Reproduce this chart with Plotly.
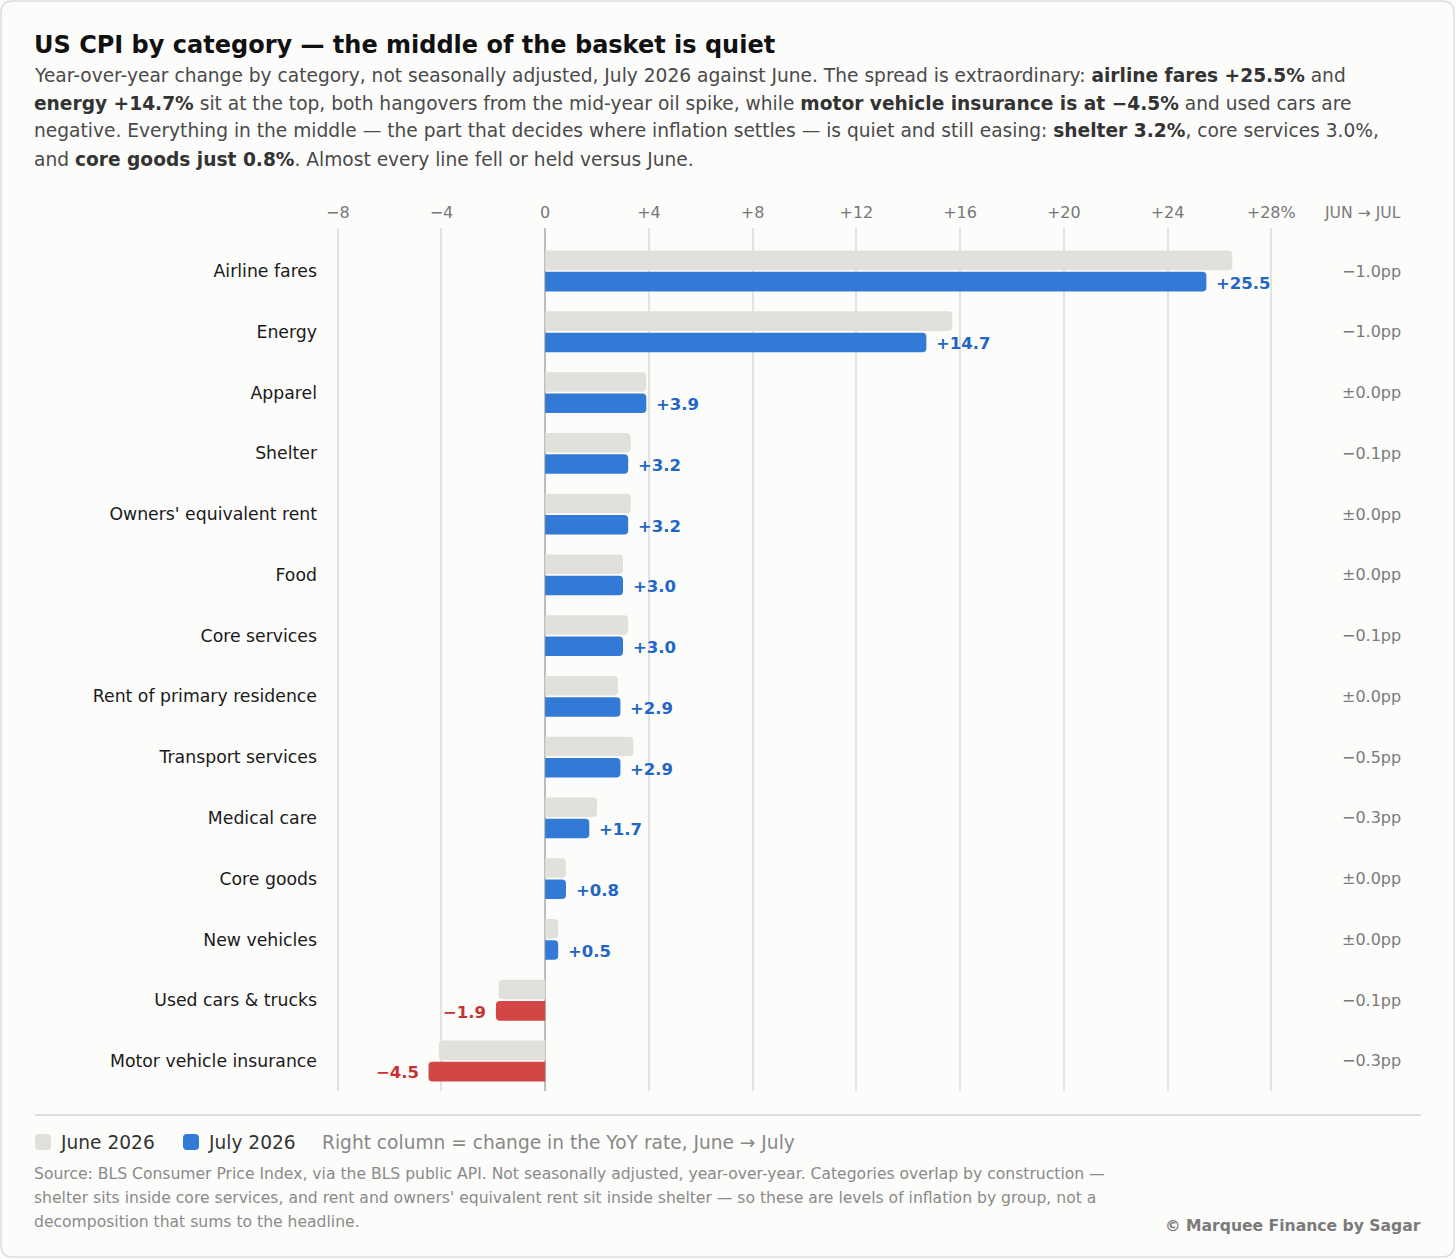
import plotly.graph_objects as go

categories = ["Airline fares", "Energy", "Apparel", "Shelter", "Owners' equivalent rent",
              "Food", "Core services", "Rent of primary residence", "Transport services",
              "Medical care", "Core goods", "New vehicles", "Used cars & trucks",
              "Motor vehicle insurance"]
june_2026 = [26.5, 15.7, 3.9, 3.3, 3.3, 3.0, 3.2, 2.8, 3.4, 2.0, 0.8, 0.5, -1.8, -4.1]
july_2026 = [25.5, 14.7, 3.9, 3.2, 3.2, 3.0, 3.0, 2.9, 2.9, 1.7, 0.8, 0.5, -1.9, -4.5]
change_pp = ["\u22121.0pp", "\u22121.0pp", "\u00b10.0pp", "\u22120.1pp", "\u00b10.0pp",
             "\u00b10.0pp", "\u22120.1pp", "\u00b10.0pp", "\u22120.5pp", "\u22120.3pp",
             "\u00b10.0pp", "\u00b10.0pp", "\u22120.1pp", "\u22120.3pp"]
tick_vals = [-8, -4, 0, 4, 8, 12, 16, 20, 24, 28]
tick_text = ["\u22128", "\u22124", "0", "+4", "+8", "+12", "+16", "+20", "+24", "+28%"]

FONT = "DejaVu Sans"
W, H = 1456, 1259
L, R, T, B = 330, 1279, 228, 1091
BG = "#fcfcfa"

def px(x):
    return (x - L) / (R - L)

def py(y):
    return (B - y) / (B - T)

BLUE, RED, GREY = "#3379d6", "#d24646", "#e2e0da"
july_colors = [BLUE if v >= 0 else RED for v in july_2026]

fig = go.Figure()
fig.add_trace(go.Bar(y=categories, x=june_2026, orientation="h", name="June 2026",
                     marker=dict(color=GREY, cornerradius=4, line=dict(width=0)),
                     hoverinfo="skip"))
fig.add_trace(go.Bar(y=categories, x=july_2026, orientation="h", name="July 2026",
                     marker=dict(color=july_colors, cornerradius=4, line=dict(width=0)),
                     hoverinfo="skip"))

ann = []

def text_at(x, y, s, size, color, anchor="left"):
    # pixel-placed text; small shift compensates the annotation padding
    ann.append(dict(x=px(x), y=py(y), xref="paper", yref="paper", showarrow=False,
                    xanchor=anchor, yanchor="middle", text=s,
                    xshift=-3 if anchor == "left" else 2,
                    font=dict(family=FONT, size=size, color=color)))

# value labels next to July bars
for c, v in zip(categories, july_2026):
    pos = v >= 0
    ann.append(dict(x=v, y=c, xref="x", yref="y", text="<b>%s%.1f</b>" % ("+" if pos else "\u2212", abs(v)),
                    showarrow=False, xanchor="left" if pos else "right", xshift=8 if pos else -8,
                    yshift=-12, font=dict(family=FONT, size=16.5, color="#1f66c6" if pos else "#c83232")))
# right column
for c, d in zip(categories, change_pp):
    ann.append(dict(x=px(1401), y=c, xref="paper", yref="y", text=d, showarrow=False,
                    xanchor="right", xshift=2, font=dict(family=FONT, size=16, color="#7a7a7a")))
text_at(1401, 213, "JUN \u2192 JUL", 15.6, "#7a7a7a", "right")

# title and subtitle
text_at(35, 45, "<b>US CPI by category \u2014 the middle of the basket is quiet</b>", 24, "#111111")
bold = "<span style='color:#333333'><b>%s</b></span>"
sub = [
    "Year-over-year change by category, not seasonally adjusted, July 2026 against June. The spread is extraordinary: "
    + bold % "airline fares +25.5%" + " and",
    bold % "energy +14.7%" + " sit at the top, both hangovers from the mid-year oil spike, while "
    + bold % "motor vehicle insurance is at \u22124.5%" + " and used cars are",
    "negative. Everything in the middle \u2014 the part that decides where inflation settles \u2014 is quiet and still easing: "
    + bold % "shelter 3.2%" + ", core services 3.0%,",
    "and " + bold % "core goods just 0.8%" + ". Almost every line fell or held versus June.",
]
for i, s in enumerate(sub):
    text_at(35, 75 + 28 * i, s, 18.63, "#4a4a4a")

# legend
text_at(61, 1142, "June 2026", 18.6, "#333333")
text_at(209, 1142, "July 2026", 18.6, "#333333")
text_at(323, 1142, "Right column = change in the YoY rate, June \u2192 July", 18.6, "#888888")

# footer
foot = [
    "Source: BLS Consumer Price Index, via the BLS public API. Not seasonally adjusted, year-over-year. Categories overlap by construction \u2014",
    "shelter sits inside core services, and rent and owners' equivalent rent sit inside shelter \u2014 so these are levels of inflation by group, not a",
    "decomposition that sums to the headline.",
]
for i, s in enumerate(foot):
    text_at(35, 1174 + 24 * i, s, 15.6, "#8a8a8a")
text_at(1421, 1226, "<b>\u00a9 Marquee Finance by Sagar</b>", 15.6, "#7a7a7a", "right")

def rounded_rect(x0, y0, x1, y1, r):
    # path in paper coords, corners given in pixels
    rx, ry = r / (R - L), r / (B - T)
    a, b, c, d = px(x0), py(y1), px(x1), py(y0)
    return (f"M {a+rx},{b} L {c-rx},{b} Q {c},{b} {c},{b+ry} L {c},{d-ry} Q {c},{d} {c-rx},{d} "
            f"L {a+rx},{d} Q {a},{d} {a},{d-ry} L {a},{b+ry} Q {a},{b} {a+rx},{b} Z")

shapes = [
    dict(type="path", xref="paper", yref="paper", path=rounded_rect(1, 1, 1454, 1257, 12),
         line=dict(color="#dcdcdc", width=1.5), fillcolor="rgba(0,0,0,0)", layer="below"),
    dict(type="line", xref="paper", yref="paper", x0=px(35), x1=px(1421), y0=py(1115), y1=py(1115),
         line=dict(color="#dddddd", width=2)),
    dict(type="path", xref="paper", yref="paper", path=rounded_rect(35, 1134, 51, 1150, 4),
         line=dict(width=0), fillcolor=GREY),
    dict(type="path", xref="paper", yref="paper", path=rounded_rect(183, 1134, 199, 1150, 4),
         line=dict(width=0), fillcolor=BLUE),
]

fig.update_layout(
    width=W, height=H,
    margin=dict(l=L, r=W - R, t=T, b=H - B, pad=0),
    paper_bgcolor=BG, plot_bgcolor=BG,
    barmode="group", bargap=0.30, bargroupgap=0.08,
    showlegend=False,
    font=dict(family=FONT),
    annotations=ann, shapes=shapes,
    xaxis=dict(range=[-8.3, 28.3], side="top", tickvals=tick_vals, ticktext=tick_text,
               showgrid=True, gridcolor="#e2e2e2", gridwidth=1.5,
               zeroline=True, zerolinecolor="#bdbdbd", zerolinewidth=1.5,
               showline=False, ticks="", ticklabelstandoff=6,
               tickfont=dict(family=FONT, size=16, color="#777777"), fixedrange=True),
    yaxis=dict(range=[13.494, -0.708], showgrid=False, zeroline=False, ticks="",
               ticklabelstandoff=12, tickfont=dict(family=FONT, size=17.3, color="#1a1a1a"),
               fixedrange=True),
)

fig.write_html("out.html", config={"displayModeBar": False},
               post_script="document.body.style.margin='0';document.body.style.background='%s';" % BG)
